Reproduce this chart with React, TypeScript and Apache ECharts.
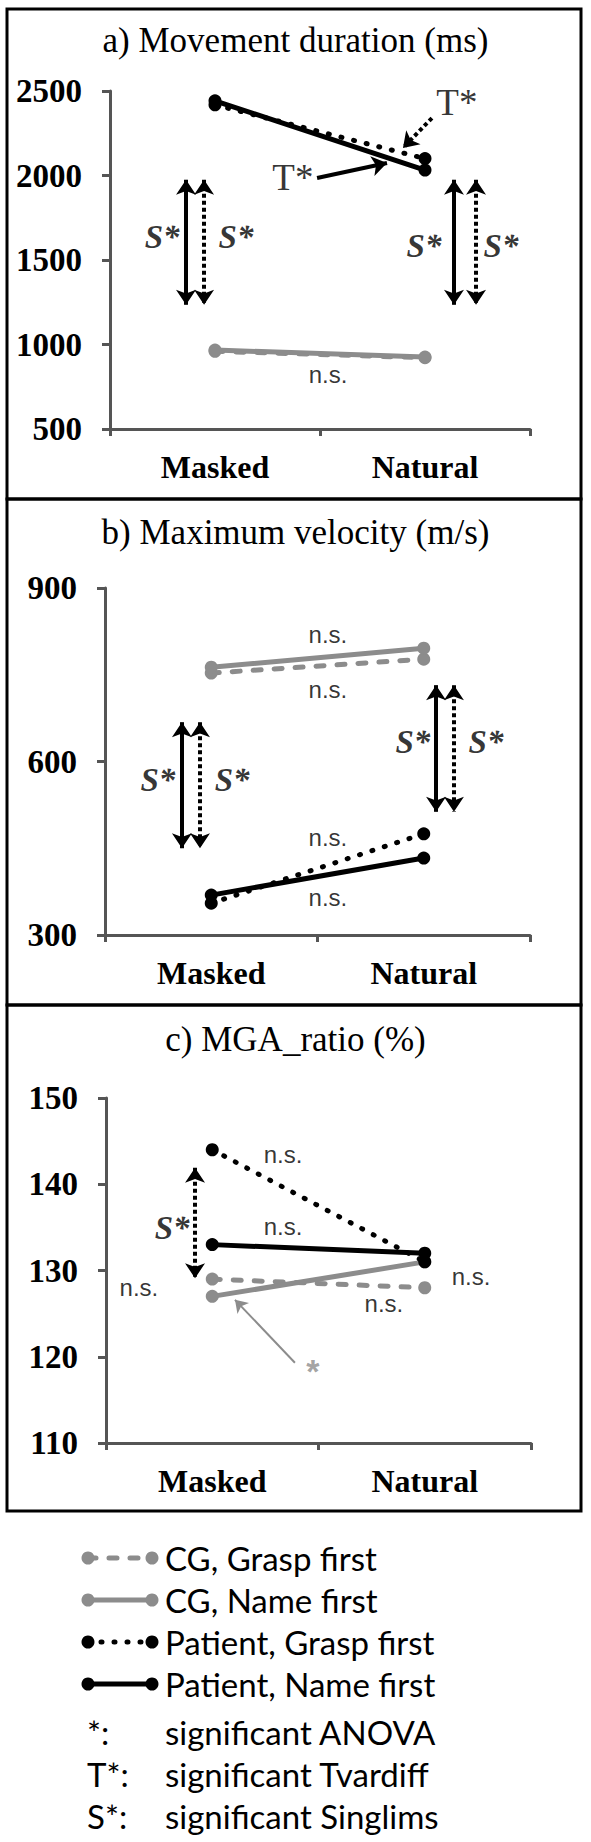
import React, { useEffect, useRef } from "react";
import * as echarts from "echarts";

// ---------- data ----------
const conditions = ["Masked", "Natural"];
const seriesNames = [
  "CG, Grasp first",
  "CG, Name first",
  "Patient, Grasp first",
  "Patient, Name first",
];

// a) Movement duration (ms)
const durationCGGrasp = [960, 922];
const durationCGName = [967, 926];
const durationPatientGrasp = [2418, 2100];
const durationPatientName = [2442, 2032];
const durationTicks = [500, 1000, 1500, 2000, 2500];

// b) Maximum velocity (m/s)
const velocityCGGrasp = [753, 777];
const velocityCGName = [763, 796];
const velocityPatientGrasp = [355, 475];
const velocityPatientName = [369, 433];
const velocityTicks = [300, 600, 900];

// c) MGA_ratio (%)
const mgaCGGrasp = [129, 128];
const mgaCGName = [127, 131];
const mgaPatientGrasp = [144, 131];
const mgaPatientName = [133, 132];
const mgaTicks = [110, 120, 130, 140, 150];

const noteKeys = ["*:", "T*:", "S*:"];
const noteTexts = ["significant ANOVA", "significant Tvardiff", "significant Singlims"];

// ---------- styling ----------
const W = 591;
const H = 1842;
const GRAY = "#8c8c8c";
const BLACK = "#000000";
const AXIS = "#555555";
const SERIF = "'Liberation Serif', 'Times New Roman', serif";
const SANS = "'Liberation Sans', Arial, sans-serif";
const LEGEND_FONT = "Lato, 'Open Sans', sans-serif";

type LineKind = "dashed" | "solid" | "dotted";
const seriesLook: { color: string; kind: LineKind }[] = [
  { color: GRAY, kind: "dashed" },
  { color: GRAY, kind: "solid" },
  { color: BLACK, kind: "dotted" },
  { color: BLACK, kind: "solid" },
];

function dashFor(kind: LineKind): any {
  if (kind === "dashed") return [8, 13];
  if (kind === "dotted") return [1, 12];
  return "solid";
}

// Annotation arrows and labels, placed in data units
// (x: -0.5 .. 1.5 across the category band, y: the panel's own scale)
type Arrow = {
  from: [number, number];
  to: [number, number];
  heads: "both" | "end";
  look: "solid" | "dotted" | "gray";
};
type Label = { at: [number, number]; text: string; kind: "S" | "T" | "ns" | "star" };

type Panel = {
  title: string;
  titleY: number;
  frame: [number, number];
  grid: { left: number; width: number; top: number; height: number };
  ticks: number[];
  values: number[][];
  arrows: Arrow[];
  labels: Label[];
};

const panels: Panel[] = [
  {
    title: "a) Movement duration (ms)",
    titleY: 41,
    frame: [9, 499],
    grid: { left: 110, width: 420, top: 91, height: 338 },
    ticks: durationTicks,
    values: [durationCGGrasp, durationCGName, durationPatientGrasp, durationPatientName],
    arrows: [
      { from: [-0.138, 1975], to: [-0.138, 1235], heads: "both", look: "solid" },
      { from: [-0.052, 1975], to: [-0.052, 1235], heads: "both", look: "dotted" },
      { from: [1.138, 1975], to: [1.138, 1235], heads: "both", look: "solid" },
      { from: [1.243, 1975], to: [1.243, 1235], heads: "both", look: "dotted" },
      { from: [1.033, 2340], to: [0.895, 2163], heads: "end", look: "dotted" },
      { from: [0.486, 1985], to: [0.819, 2074], heads: "end", look: "solid" },
    ],
    labels: [
      { at: [-0.252, 1636], text: "S*", kind: "S" },
      { at: [0.1, 1636], text: "S*", kind: "S" },
      { at: [0.995, 1583], text: "S*", kind: "S" },
      { at: [1.362, 1583], text: "S*", kind: "S" },
      { at: [1.152, 2429], text: "T*", kind: "T" },
      { at: [0.371, 1991], text: "T*", kind: "T" },
      { at: [0.538, 820], text: "n.s.", kind: "ns" },
    ],
  },
  {
    title: "b) Maximum velocity (m/s)",
    titleY: 533,
    frame: [499, 1005],
    grid: { left: 105, width: 425, top: 588, height: 347 },
    ticks: velocityTicks,
    values: [velocityCGGrasp, velocityCGName, velocityPatientGrasp, velocityPatientName],
    arrows: [
      { from: [-0.138, 668], to: [-0.138, 450], heads: "both", look: "solid" },
      { from: [-0.053, 668], to: [-0.053, 450], heads: "both", look: "dotted" },
      { from: [1.058, 732], to: [1.058, 513], heads: "both", look: "solid" },
      { from: [1.142, 732], to: [1.142, 513], heads: "both", look: "dotted" },
    ],
    labels: [
      { at: [-0.251, 568], text: "S*", kind: "S" },
      { at: [0.098, 568], text: "S*", kind: "S" },
      { at: [0.949, 634], text: "S*", kind: "S" },
      { at: [1.293, 634], text: "S*", kind: "S" },
      { at: [0.549, 819], text: "n.s.", kind: "ns" },
      { at: [0.549, 724], text: "n.s.", kind: "ns" },
      { at: [0.549, 468], text: "n.s.", kind: "ns" },
      { at: [0.549, 364], text: "n.s.", kind: "ns" },
    ],
  },
  {
    title: "c) MGA_ratio (%)",
    titleY: 1040,
    frame: [1005, 1511],
    grid: { left: 106, width: 425, top: 1098, height: 345 },
    ticks: mgaTicks,
    values: [mgaCGGrasp, mgaCGName, mgaPatientGrasp, mgaPatientName],
    arrows: [
      { from: [-0.081, 141.9], to: [-0.081, 129.1], heads: "both", look: "dotted" },
      { from: [0.389, 119.3], to: [0.107, 126.6], heads: "end", look: "gray" },
    ],
    labels: [
      { at: [-0.189, 134.9], text: "S*", kind: "S" },
      { at: [0.333, 143.4], text: "n.s.", kind: "ns" },
      { at: [0.333, 135.1], text: "n.s.", kind: "ns" },
      { at: [1.218, 129.3], text: "n.s.", kind: "ns" },
      { at: [0.808, 126.2], text: "n.s.", kind: "ns" },
      { at: [-0.345, 128.0], text: "n.s.", kind: "ns" },
      { at: [0.474, 118.3], text: "*", kind: "star" },
    ],
  },
];

const labelFont: Record<Label["kind"], any> = {
  S: { fontFamily: SERIF, fontStyle: "italic", fontWeight: "bold", fontSize: 33, color: BLACK },
  T: { fontFamily: SERIF, fontWeight: "normal", fontSize: 37, color: BLACK },
  ns: { fontFamily: SANS, fontWeight: "normal", fontSize: 24, color: BLACK },
  star: { fontFamily: SANS, fontWeight: "bold", fontSize: 34, color: GRAY },
};

function buildOption(): any {
  const grid: any[] = [];
  const xAxis: any[] = [];
  const yAxis: any[] = [];
  const series: any[] = [];
  const title: any[] = [];
  const graphic: any[] = [];

  panels.forEach((p, i) => {
    graphic.push({
      type: "rect",
      shape: { x: 7, y: p.frame[0], width: 574, height: p.frame[1] - p.frame[0] },
      style: { fill: "none", stroke: BLACK, lineWidth: 3 },
      z: 0,
    });
    title.push({
      text: p.title,
      left: "center",
      top: p.titleY - 18,
      padding: 0,
      textStyle: { fontFamily: SERIF, fontSize: 35, fontWeight: "normal", color: BLACK },
    });
    grid.push({ ...p.grid, containLabel: false });

    const catIndex = i * 2;
    const valIndex = i * 2 + 1;
    xAxis.push({
      type: "category",
      gridIndex: i,
      data: conditions,
      boundaryGap: true,
      axisLine: { onZero: false, lineStyle: { color: AXIS, width: 3 } },
      axisTick: { show: true, length: 7, lineStyle: { color: AXIS, width: 3 } },
      axisLabel: {
        fontFamily: SERIF,
        fontWeight: "bold",
        fontSize: 32,
        color: BLACK,
        margin: 22,
      },
      splitLine: { show: false },
    });
    xAxis.push({ type: "value", gridIndex: i, min: -0.5, max: 1.5, show: false });

    const t = p.ticks;
    yAxis.push({
      type: "value",
      gridIndex: i,
      min: t[0],
      max: t[t.length - 1],
      interval: t[1] - t[0],
      axisLine: { show: true, onZero: false, lineStyle: { color: AXIS, width: 3 } },
      axisTick: { show: true, length: 8, lineStyle: { color: AXIS, width: 3 } },
      splitLine: { show: false },
      axisLabel: {
        fontFamily: SERIF,
        fontWeight: "bold",
        fontSize: 33,
        color: BLACK,
        margin: 28,
        formatter: (v: number) => String(v),
      },
    });

    p.values.forEach((vals, k) => {
      const look = seriesLook[k];
      series.push({
        type: "line",
        name: seriesNames[k],
        xAxisIndex: catIndex,
        yAxisIndex: i,
        data: vals,
        symbol: "circle",
        symbolSize: 13,
        clip: false,
        silent: true,
        z: 3 + k,
        lineStyle: { color: look.color, width: 5, type: dashFor(look.kind), cap: "round" },
        itemStyle: { color: look.color },
        emphasis: { disabled: true },
      });
    });

    const groups: { heads: Arrow["heads"]; look: Arrow["look"] }[] = [
      { heads: "both", look: "solid" },
      { heads: "both", look: "dotted" },
      { heads: "end", look: "solid" },
      { heads: "end", look: "dotted" },
      { heads: "end", look: "gray" },
    ];
    groups.forEach((g) => {
      const items = p.arrows.filter((a) => a.heads === g.heads && a.look === g.look);
      if (!items.length) return;
      series.push({
        type: "lines",
        coordinateSystem: "cartesian2d",
        xAxisIndex: valIndex,
        yAxisIndex: i,
        silent: true,
        z: 10,
        symbol: g.heads === "both" ? ["arrow", "arrow"] : ["none", "arrow"],
        symbolSize: g.look === "gray" ? 12 : 15,
        lineStyle: {
          color: g.look === "gray" ? GRAY : BLACK,
          width: g.look === "gray" ? 2 : 4,
          type: g.look === "dotted" ? [4, 3] : "solid",
          opacity: 1,
          curveness: 0,
        },
        data: items.map((a) => ({ coords: [a.from, a.to] })),
      });
    });

    series.push({
      type: "scatter",
      xAxisIndex: valIndex,
      yAxisIndex: i,
      silent: true,
      symbolSize: 1,
      itemStyle: { color: "rgba(0,0,0,0)" },
      z: 11,
      data: p.labels.map((l) => ({
        value: l.at,
        label: { show: true, position: "inside", formatter: l.text, ...labelFont[l.kind] },
      })),
    });
  });

  // legend block under the panels
  const rowY = [1558, 1600, 1642, 1684];
  seriesNames.forEach((name, k) => {
    const look = seriesLook[k];
    const y = rowY[k];
    graphic.push({
      type: "line",
      shape: { x1: 88, y1: y, x2: 152, y2: y },
      style: {
        stroke: look.color,
        lineWidth: 5,
        lineDash: look.kind === "solid" ? null : dashFor(look.kind),
        lineCap: "round",
      },
    });
    [88, 152].forEach((cx) =>
      graphic.push({ type: "circle", shape: { cx, cy: y, r: 6.5 }, style: { fill: look.color } })
    );
    graphic.push({
      type: "text",
      x: 165,
      y,
      style: {
        text: name,
        fill: BLACK,
        font: `33px ${LEGEND_FONT}`,
        textVerticalAlign: "middle",
        textAlign: "left",
      },
    });
  });
  const noteY = [1732, 1774, 1816];
  noteKeys.forEach((key, k) => {
    graphic.push({
      type: "text",
      x: 87,
      y: noteY[k],
      style: { text: key, fill: BLACK, font: `33px ${LEGEND_FONT}`, textVerticalAlign: "middle" },
    });
    graphic.push({
      type: "text",
      x: 165,
      y: noteY[k],
      style: { text: noteTexts[k], fill: BLACK, font: `33px ${LEGEND_FONT}`, textVerticalAlign: "middle" },
    });
  });

  return {
    animation: false,
    backgroundColor: "#ffffff",
    title,
    grid,
    xAxis,
    yAxis,
    series,
    graphic,
  };
}

export default function App() {
  const ref = useRef<HTMLDivElement>(null);
  useEffect(() => {
    if (!ref.current) return;
    const chart = echarts.init(ref.current, undefined, { renderer: "svg", width: W, height: H });
    chart.setOption(buildOption());
    return () => chart.dispose();
  }, []);
  return (
    <div
      ref={ref}
      style={{ position: "absolute", left: 0, top: 0, width: W, height: H, background: "#ffffff" }}
    />
  );
}
